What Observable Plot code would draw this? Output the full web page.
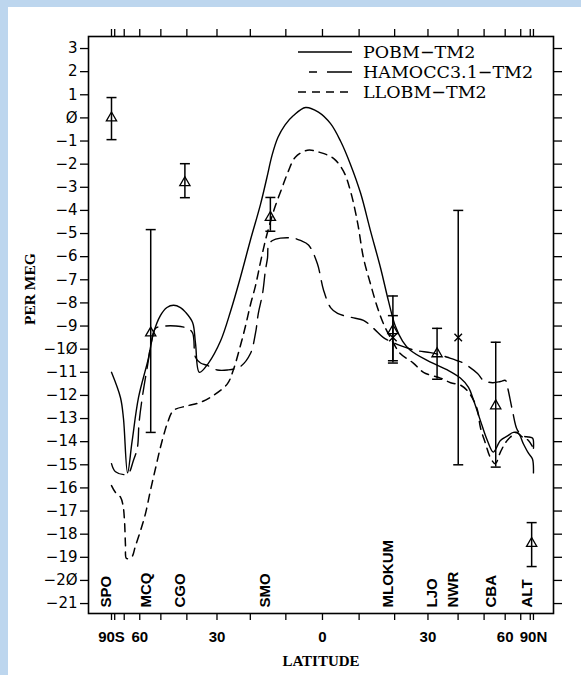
<!DOCTYPE html>
<html>
<head>
<meta charset="utf-8">
<script src="https://cdn.jsdelivr.net/npm/d3@7"></script>
<script src="https://cdn.jsdelivr.net/npm/@observablehq/plot@0.6"></script>
<style>
  html, body { margin: 0; padding: 0; background: #fff; }
  #page { position: relative; width: 581px; height: 675px; background: #fff; overflow: hidden; }
  .edge { position: absolute; background: #bdd6ee; }
  #chart, #legend { position: absolute; left: 0; top: 0; }
</style>
</head>
<body>
<div id="page">
  <div class="edge" style="left:0;top:0;width:8px;height:675px"></div>
  <div class="edge" style="left:0;top:0;width:581px;height:7px"></div>
  <div id="chart"></div>
  <svg id="legend" width="581" height="675"></svg>
</div>
<script>
// Model curves: [latitude (deg), APO anomaly (per meg)]
const pobm = [
  [-90, -11.0], [-73.2, -12.1], [-70.6, -13.0], [-67.5, -15.35], [-64.5, -14.0],
  [-60.7, -12.1], [-55.6, -10.4], [-53.2, -9.3], [-50.2, -8.55], [-47.5, -8.2],
  [-44.9, -8.1], [-42.3, -8.2], [-40.5, -8.4], [-38.0, -8.85], [-37.0, -9.75],
  [-35.7, -11.0], [-32.7, -10.6], [-28.9, -9.65], [-25.8, -8.35], [-22.9, -6.9],
  [-20.0, -5.3], [-17.1, -3.75], [-15.3, -2.6], [-13.8, -1.6], [-12.2, -0.85],
  [-10.2, -0.3], [-7.9, 0.1], [-4.6, 0.45], [-1.1, 0.25], [2.2, -0.25], [4.9, -1.0],
  [7.6, -2.0], [10.4, -3.25], [13.1, -4.85], [16.0, -6.5], [18.2, -7.9],
  [20.2, -9.0], [22.3, -9.65], [24.6, -10.05], [29.9, -10.5], [36.3, -10.9],
  [40.8, -11.25], [43.8, -11.65], [45.7, -12.2], [48.5, -13.1], [51.4, -13.95],
  [54.1, -14.45], [57.5, -13.95], [61.3, -13.75], [64.8, -13.6], [68.3, -13.65],
  [72.3, -14.1], [77.5, -14.5], [84.4, -14.75], [90, -15.35]
];
const hamocc = [
  [-90, -14.95], [-78.8, -15.3], [-67.5, -15.4], [-63.6, -14.8], [-61.3, -14.25],
  [-60.4, -13.2], [-58.5, -12.0], [-56.0, -10.7], [-54.1, -9.65], [-52.3, -9.1],
  [-48.1, -9.0], [-44.1, -9.0], [-39.8, -9.1], [-38.0, -9.3], [-37.0, -10.35],
  [-35.3, -10.6], [-33.1, -10.7], [-29.9, -10.9], [-26.8, -10.9], [-22.9, -10.75],
  [-20.0, -10.2], [-18.5, -9.3], [-17.7, -8.45], [-16.5, -7.6], [-15.7, -6.6],
  [-15.1, -6.05], [-14.8, -5.5], [-13.7, -5.3], [-11.5, -5.2], [-7.9, -5.2],
  [-6.0, -5.3], [-3.8, -5.5], [-1.4, -6.3], [0.3, -7.45], [2.2, -8.2],
  [4.1, -8.45], [8.5, -8.65], [11.2, -8.75], [14.0, -9.1], [16.8, -9.5],
  [19.4, -9.7], [21.7, -9.85], [26.1, -10.05], [30.8, -10.15], [34.0, -10.25],
  [36.3, -10.35], [39.8, -10.5], [41.9, -10.6], [47.3, -11.05], [49.7, -11.35],
  [53.7, -11.45], [57.5, -11.4], [60.1, -11.35], [61.3, -11.65], [64.2, -12.65],
  [67.5, -13.5], [72.0, -13.75], [78.0, -13.8], [85.0, -13.85], [90, -14.3]
];
const llobm = [
  [-90, -15.9], [-78.8, -16.2], [-73.2, -16.4], [-71.0, -16.75], [-69.8, -17.4],
  [-69.0, -18.5], [-68.3, -19.05], [-64.8, -19.0], [-62.4, -18.5], [-59.6, -17.85],
  [-57.0, -17.1], [-54.6, -16.1], [-52.3, -15.15], [-50.2, -14.25], [-48.5, -13.6],
  [-47.3, -13.2], [-44.9, -12.65], [-39.8, -12.45], [-35.3, -12.3], [-31.1, -12.0],
  [-26.8, -11.5], [-25.0, -10.9], [-22.9, -9.85], [-21.4, -9.0], [-20.0, -8.1],
  [-18.5, -7.25], [-17.1, -6.25], [-15.7, -5.3], [-14.3, -4.5], [-12.9, -3.8],
  [-11.0, -3.0], [-9.3, -2.3], [-7.4, -1.7], [-4.1, -1.4], [-0.5, -1.5],
  [3.0, -1.75], [5.7, -2.3], [7.6, -3.15], [9.6, -4.55], [11.2, -6.05],
  [13.1, -7.15], [15.1, -8.2], [16.8, -8.9], [19.7, -9.75], [21.7, -10.2],
  [25.5, -10.6], [28.6, -11.0], [34.0, -11.25], [37.4, -11.45], [40.8, -11.55],
  [43.4, -11.8], [45.7, -12.2], [47.3, -12.65], [48.5, -13.4], [50.5, -14.05],
  [52.8, -14.7], [55.0, -14.95], [57.5, -14.45], [60.1, -14.05], [63.0, -13.8],
  [66.8, -13.6], [71.4, -13.8], [77.5, -13.95], [90, -14.3]
];

// Station observations with error bars
const stationCodes = ["SPO", "MCQ", "CGO", "SMO", "MLO", "KUM", "LJO", "NWR", "CBA", "ALT"];
const stationLats  = [-90, -54.5, -40.7, -14.3, 19.5, 19.5, 32.9, 40.05, 55.2, 82.5];
const obsMean      = [0, -9.3, -2.8, -4.3, -9.2, -9.5, -10.2, -9.5, -12.45, -18.4];
const obsLow       = [-0.94, -13.6, -3.45, -4.9, -10.6, -10.5, -11.3, -15.0, -15.1, -19.4];
const obsHigh      = [0.88, -4.83, -1.98, -3.44, -7.7, -8.55, -9.1, -4.0, -9.7, -17.5];
const obsMarker    = ["triangle", "triangle", "triangle", "triangle", "triangle", "times", "triangle", "times", "triangle", "triangle"];

// Station name labels along the bottom
const labelNames = ["SPO", "MCQ", "CGO", "SMO", "MLOKUM", "LJO", "NWR", "CBA", "ALT"];
const labelLats  = [-90, -54.5, -40.7, -14.3, 19.5, 32.9, 40.05, 55.2, 82.5];

// Axis ticks
const latTicks = [-90, -80, -70, -60, -50, -40, -30, -20, -10, 0, 10, 20, 30, 40, 50, 60, 70, 80, 90];
const latTickLabels = { "-90": "90S", "-60": "60", "-30": "30", "0": "0", "30": "30", "60": "60", "90": "90N" };
const perMegTicks = d3.range(-21, 4);

// Latitude axis is area-weighted (sine of latitude)
const sinLat = lat => Math.sin(lat * Math.PI / 180);
const latOfSin = s => Math.round(Math.asin(Math.max(-1, Math.min(1, s))) * 180 / Math.PI);

const toRows = series => series.map(([lat, val]) => ({ s: sinLat(lat), val }));
const obs = stationCodes.map((code, i) => ({
  code, s: sinLat(stationLats[i]), mean: obsMean[i], low: obsLow[i], high: obsHigh[i], marker: obsMarker[i]
}));
const labels = labelNames.map((name, i) => ({ name, s: sinLat(labelLats[i]) }));

const capSymbol = {
  draw(context, size) {
    const r = Math.sqrt(size / Math.PI);
    context.moveTo(-r, 0);
    context.lineTo(r, 0);
  }
};

const perMegFormat = d => (d < 0 ? "\u2212" : "") + String(Math.abs(d)).replace(/0/g, "\u00D8");

const chart = Plot.plot({
  width: 581,
  height: 675,
  marginLeft: 88,
  marginRight: 28,
  marginTop: 36,
  marginBottom: 62,
  style: { background: "transparent", overflow: "visible", color: "black" },
  x: { domain: [-1.109, 1.095] },
  y: { domain: [-21.43, 3.52] },
  marks: [
    Plot.axisY(perMegTicks, {
      anchor: "left", tickSize: 8, tickPadding: 3, strokeWidth: 1.3,
      tickFormat: perMegFormat, fontFamily: "DejaVu Sans", fontSize: 15, label: null
    }),
    Plot.axisY(perMegTicks, { anchor: "right", tickSize: 8, strokeWidth: 1.3, tickFormat: () => "", label: null }),
    Plot.axisX(latTicks.map(sinLat), {
      anchor: "bottom", tickSize: 7, tickPadding: 11, strokeWidth: 1.3,
      tickFormat: s => latTickLabels[latOfSin(s)] ?? "",
      fontFamily: "Liberation Sans", fontWeight: "bold", fontSize: 15, label: null
    }),
    Plot.axisX(latTicks.map(sinLat), { anchor: "top", tickSize: 8, strokeWidth: 1.3, tickFormat: () => "", label: null }),
    Plot.frame({ strokeWidth: 1.6 }),

    Plot.line(toRows(pobm), { x: "s", y: "val", curve: "catmull-rom", strokeWidth: 1.4 }),
    Plot.line(toRows(hamocc), { x: "s", y: "val", curve: "catmull-rom", strokeWidth: 1.4, strokeDasharray: "18,8" }),
    Plot.line(toRows(llobm), { x: "s", y: "val", curve: "catmull-rom", strokeWidth: 1.5, strokeDasharray: "8,6" }),

    Plot.ruleX(obs, { x: "s", y1: "low", y2: "high", strokeWidth: 1.5 }),
    Plot.dot(obs, { x: "s", y: "high", symbol: capSymbol, r: 5, fill: "none", stroke: "black", strokeWidth: 1.5 }),
    Plot.dot(obs, { x: "s", y: "low", symbol: capSymbol, r: 5, fill: "none", stroke: "black", strokeWidth: 1.5 }),
    Plot.dot(obs.filter(d => d.marker === "triangle"), { x: "s", y: "mean", symbol: "triangle", r: 3.8, fill: "none", stroke: "black", strokeWidth: 1.3 }),
    Plot.dot(obs.filter(d => d.marker === "times"), { x: "s", y: "mean", symbol: "times", r: 3.5, fill: "none", stroke: "black", strokeWidth: 1.4 }),

    Plot.text(labels, {
      x: "s", text: "name", frameAnchor: "bottom", rotate: -90, textAnchor: "start", dy: -6,
      fontFamily: "Liberation Sans", fontWeight: "bold", fontSize: 15
    }),
    Plot.text(["PER MEG"], {
      frameAnchor: "left", rotate: -90, dx: -58,
      fontFamily: "Liberation Serif", fontWeight: "bold", fontSize: 15.5
    }),
    Plot.text(["LATITUDE"], {
      frameAnchor: "bottom", dy: 52,
      fontFamily: "Liberation Serif", fontWeight: "bold", fontSize: 15
    })
  ]
});
document.getElementById("chart").append(chart);

// Legend in the upper right of the panel
const legendItems = [
  { name: "POBM\u2212TM2", dash: null, x1: 298 },
  { name: "HAMOCC3.1\u2212TM2", dash: "8 10 25 10", x1: 309 },
  { name: "LLOBM\u2212TM2", dash: "8 6", x1: 298 }
];
const legend = d3.select("#legend");
legendItems.forEach((item, i) => {
  const y = 52 + i * 20;
  legend.append("line")
    .attr("x1", item.x1).attr("x2", 352).attr("y1", y).attr("y2", y)
    .attr("stroke", "black").attr("stroke-width", 1.5)
    .attr("stroke-dasharray", item.dash);
  legend.append("text")
    .attr("x", 363).attr("y", y + 6)
    .attr("font-family", "DejaVu Serif").attr("font-size", 17.5)
    .text(item.name);
});
</script>
</body>
</html>
